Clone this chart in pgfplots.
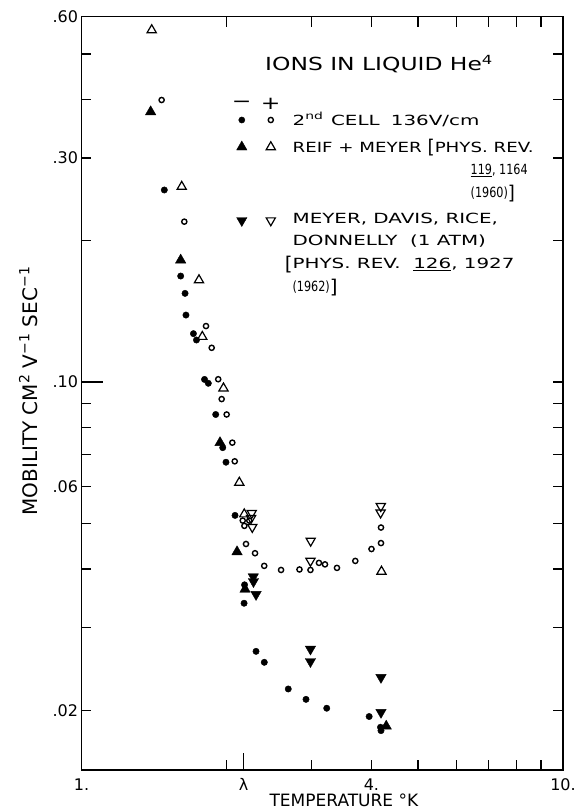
\documentclass[border=0pt]{standalone}
\usepackage{pgfplots}
\usepackage{pgfplotstable}
\usepackage{graphicx}
\pgfplotsset{compat=1.18}
\usepackage{fontspec}
\setmainfont{DejaVu Sans}
\newfontfamily\leroy[FakeStretch=1.3]{DejaVu Sans}
\newfontfamily\leroyL[FakeStretch=1.42]{DejaVu Sans}
\newfontfamily\leroyN[FakeStretch=0.8]{DejaVu Sans}
\newfontfamily\plainfont{DejaVu Sans}
\newcommand{\lb}{\raisebox{-1.8pt}{\scalebox{1}[1.35]{[}}}
\newcommand{\rb}{\raisebox{-1.8pt}{\scalebox{1}[1.35]{]}}}

% 2nd cell, negative ions (filled circles)
\pgfplotstableread{
x y
1.486 0.2565
1.607 0.1682
1.641 0.1545
1.648 0.1389
1.708 0.1268
1.733 0.1229
1.801 0.1013
1.834 0.0994
1.900 0.0853
1.965 0.0725
1.996 0.0675
2.084 0.0520
2.181 0.0370
2.176 0.0338
2.304 0.0267
2.397 0.0253
2.688 0.0222
2.926 0.0211
3.231 0.0202
3.958 0.0194
4.178 0.0184
4.188 0.0181
}\negcell
% 2nd cell, positive ions (open circles)
\pgfplotstableread{
x y
1.467 0.3988
1.635 0.2196
1.814 0.1316
1.864 0.1183
1.923 0.1014
1.955 0.0920
2.002 0.0853
2.057 0.0743
2.081 0.0678
2.162 0.0507
2.231 0.0507
2.179 0.0494
2.196 0.0452
2.293 0.0432
2.396 0.0406
2.597 0.0398
2.836 0.0399
2.989 0.0398
3.113 0.0412
3.204 0.0409
3.393 0.0402
3.704 0.0416
4.002 0.0441
4.188 0.0454
4.188 0.0490
}\poscell
% Reif + Meyer, negative (filled up triangles)
\pgfplotstableread{
x y
1.392 0.3764
1.607 0.1819
1.940 0.0743
2.104 0.0435
2.186 0.0362
4.294 0.0185
}\negreif
% Reif + Meyer, positive (open up triangles)
\pgfplotstableread{
x y
1.399 0.5621
1.615 0.2607
1.754 0.1649
1.782 0.1249
1.972 0.0970
2.127 0.0611
2.178 0.0523
4.198 0.0395
}\posreif
% Meyer, Davis, Rice, Donnelly, negative (filled down triangles)
\pgfplotstableread{
x y
2.274 0.0385
2.276 0.0376
2.304 0.0353
2.989 0.0270
2.989 0.0254
4.188 0.0235
4.188 0.0198
}\negmeyer
% Meyer, Davis, Rice, Donnelly, positive (open down triangles)
\pgfplotstableread{
x y
2.257 0.0526
2.250 0.0513
2.263 0.0491
2.992 0.0459
2.989 0.0416
4.184 0.0544
4.180 0.0527
}\posmeyer

\begin{document}
\begin{tikzpicture}
\useasboundingbox (0,0) rectangle (577pt,809pt);
\begin{axis}[
  at={(81.5pt,39pt)}, anchor=south west,
  scale only axis, width=481.5pt, height=753.3pt,
  xmode=log, ymode=log,
  xmin=1, xmax=10, ymin=0.01492, ymax=0.6,
  clip=false,
  axis line style={line width=1.5pt},
  every tick/.style={line width=1.3pt, black},
  major tick length=10pt, minor tick length=10pt,
  xtick={1,4,10}, xticklabels={\mbox{1.},\mbox{4.},\mbox{10.}},
  minor xtick={2,3,5,6,7,8,9},
  extra x ticks={2.172}, extra x tick labels={\mbox{λ}},
  extra x tick style={xtick pos=left, major tick length=17pt},
  ytick={0.02,0.03,0.04,0.05,0.06,0.07,0.08,0.09,0.1,0.2,0.3,0.4,0.5,0.6},
  yticklabels={\mbox{.02},,,,\mbox{.06},,,,\mbox{.10},,\mbox{.30},,,\mbox{.60}},
  extra y ticks={0.1}, extra y tick labels={},
  extra y tick style={ytick pos=left, major tick length=22pt},
  tick label style={font=\plainfont\fontsize{16}{18}\selectfont},
  xticklabel style={yshift=-5pt},
  xlabel={TEMPERATURE °K},
  xlabel style={at={(axis description cs:0.545,-0.0478)}, anchor=base, font=\plainfont\fontsize{17}{20}\selectfont},
  ylabel={MOBILITY CM\textsuperscript{2} V\textsuperscript{−1} SEC\textsuperscript{−1}},
  ylabel style={at={(axis description cs:-0.0924,0.503)}, anchor=base, font=\plainfont\fontsize{20}{24}\selectfont},
  legend cell align=left,
  legend style={at={(axis description cs:0.31256,0.89473)}, anchor=north west,
    draw=none, fill=none, inner sep=0pt, outer sep=0pt,
    row sep=0pt, column sep=0pt,
    font=\leroyL\fontsize{14}{22.7}\selectfont,
    cells={anchor=base west},
    nodes={inner sep=0pt, outer sep=0pt, anchor=base west, text depth={}, text height={}}},
]
\addlegendimage{legend image code/.code={
  \path[draw=none, fill=none] (-8pt,-4pt) (37pt,24pt);
  \node[anchor=center, inner sep=0pt, font=\leroy\fontsize{18}{20}\selectfont] at (0pt,16pt) {−};
  \node[anchor=center, inner sep=0pt, font=\leroy\fontsize{18}{20}\selectfont] at (29pt,16pt) {+};
  \draw[black, fill=black, only marks, mark=*, mark size=3.1pt, line width=0.4pt] plot coordinates {(0pt,0pt)};
  \draw[black, only marks, mark=o, mark size=2.6pt, line width=1.4pt] plot coordinates {(29pt,0pt)};
}}
\addlegendentry{\hspace*{12pt}\raisebox{-5.1pt}[12pt][15pt]{2\textsuperscript{nd}\hspace{0.55em}CELL\hspace{0.8em}136V/cm}}
\addlegendimage{legend image code/.code={
  \path[draw=none, fill=none] (-8pt,-6pt) (37pt,6pt);
  \draw[black, fill=black, only marks, mark=triangle*, mark size=6pt, line width=0.4pt] plot coordinates {(0pt,0pt)};
  \draw[black, only marks, mark=triangle, mark size=5.3pt, line width=1.2pt] plot coordinates {(29pt,0pt)};
}}
\addlegendentry{\hspace*{12pt}\raisebox{-5.1pt}[12pt][59pt]{\leroy REIF + MEYER \begin{tabular}[t]{@{}l@{}}\lb PHYS. REV.\\\hspace*{43pt}{\leroyN\underline{119}, 1164}\\\hspace*{43pt}{\leroyN (1960)}\rb\end{tabular}}}
\addlegendimage{legend image code/.code={
  \path[draw=none, fill=none] (-8pt,-8pt) (37pt,6pt);
  \draw[black, fill=black, only marks, mark=triangle*, mark size=6pt, line width=0.4pt, mark options={rotate=180}] plot coordinates {(0pt,-2.5pt)};
  \draw[black, only marks, mark=triangle, mark size=5.3pt, line width=1.2pt, mark options={rotate=180}] plot coordinates {(29pt,-2.5pt)};
}}
\addlegendentry{\hspace*{12pt}\raisebox{-5.1pt}[12pt][70pt]{\begin{tabular}[t]{@{}l@{}}MEYER, DAVIS, RICE,\\DONNELLY\ \ (1 ATM)\\\llap{\lb}PHYS.\ REV.\ \ \underline{126},\ 1927\\{\leroyN (1962)}\rb\end{tabular}}}

\addplot[only marks, mark=*, mark size=3.2pt, mark options={fill=black, draw=black, line width=0.4pt}] table {\negcell};
\addplot[only marks, mark=o, mark size=2.6pt, mark options={draw=black, line width=1.4pt}] table {\poscell};
\addplot[only marks, mark=triangle*, mark size=6pt, mark options={fill=black, draw=black, line width=0.4pt}] table {\negreif};
\addplot[only marks, mark=triangle, mark size=5.3pt, mark options={draw=black, line width=1.2pt}] table {\posreif};
\addplot[only marks, mark=triangle*, mark size=6pt, mark options={fill=black, draw=black, line width=0.4pt, rotate=180}] table {\negmeyer};
\addplot[only marks, mark=triangle, mark size=5.3pt, mark options={draw=black, line width=1.2pt, rotate=180}] table {\posmeyer};
\end{axis}
\node[anchor=base west, inner sep=0pt, font=\leroy\fontsize{18}{20}\selectfont] at (265pt,738.5pt) {IONS IN LIQUID He\textsuperscript{4}};
\end{tikzpicture}
\end{document}
